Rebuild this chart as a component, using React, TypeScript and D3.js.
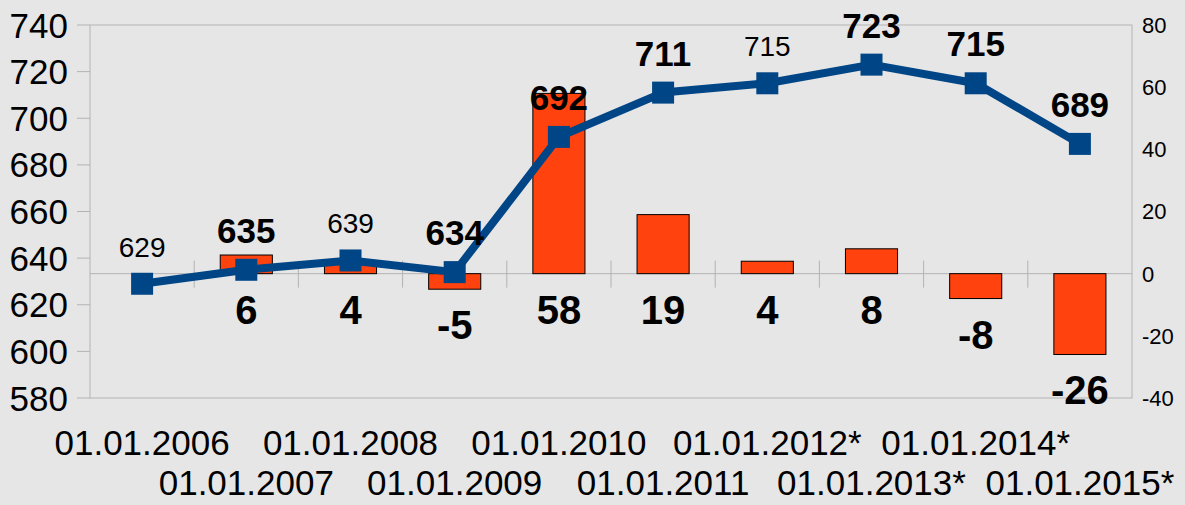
import * as d3 from "d3";

const categories = [
  "01.01.2006", "01.01.2007", "01.01.2008", "01.01.2009", "01.01.2010",
  "01.01.2011", "01.01.2012*", "01.01.2013*", "01.01.2014*", "01.01.2015*",
];
// population (left axis, line)
const totals = [629, 635, 639, 634, 692, 711, 715, 723, 715, 689];
// which line labels are drawn bold in the original
const totalBold = [false, true, false, true, true, true, false, true, true, true];
// yearly change (right axis, bars); first year has none
const changes: (number | null)[] = [null, 6, 4, -5, 58, 19, 4, 8, -8, -26];

const leftTicks = [580, 600, 620, 640, 660, 680, 700, 720, 740];
const rightTicks = [-40, -20, 0, 20, 40, 60, 80];

const W = 1185;
const H = 505;
const margin = { top: 25, right: 53, bottom: 107, left: 90 };
const FONT = "'Liberation Sans', Arial, sans-serif";
const BG = "#e6e6e6";
const GRID = "#b3b3b3";
const LINE = "#004586";
const BAR = "#ff420e";

export default function App() {
  const x0 = margin.left;
  const x1 = W - margin.right;
  const y0 = margin.top;
  const y1 = H - margin.bottom;

  const x = d3.scaleBand<string>().domain(categories).range([x0, x1]);
  const yL = d3.scaleLinear().domain([580, 740]).range([y1, y0]);
  const yR = d3.scaleLinear().domain([-40, 80]).range([y1, y0]);
  const cx = (c: string) => (x(c) ?? 0) + x.bandwidth() / 2;
  const barW = x.bandwidth() * 0.5;
  const zero = yR(0);

  const line = d3
    .line<number>()
    .x((_, i) => cx(categories[i]))
    .y((d) => yL(d));

  const mk = 22;

  return (
    <svg
      width={W}
      height={H}
      style={{ position: "absolute", left: 0, top: 0, display: "block" }}
      fontFamily={FONT}
    >
      <rect width={W} height={H} fill={BG} />

      {/* frame */}
      <rect x={x0} y={y0} width={x1 - x0} height={y1 - y0} fill="none" stroke={GRID} strokeWidth={1} />

      {/* left axis ticks + labels */}
      {leftTicks.map((t) => (
        <g key={"l" + t}>
          <line x1={x0 - 13} x2={x0} y1={yL(t)} y2={yL(t)} stroke={GRID} />
          <text x={68} y={yL(t)} dy="0.36em" textAnchor="end" fontSize={35} fill="#000">
            {t}
          </text>
        </g>
      ))}

      {/* right axis labels */}
      {rightTicks.map((t) => (
        <text key={"r" + t} x={1142} y={yR(t)} dy="0.36em" fontSize={22} fill="#000">
          {t}
        </text>
      ))}

      {/* zero line with category ticks */}
      <line x1={x0} x2={x1} y1={zero} y2={zero} stroke={GRID} />
      {categories.slice(1).map((c) => (
        <line key={"t" + c} x1={x(c)} x2={x(c)} y1={zero - 13} y2={zero + 14} stroke={GRID} />
      ))}

      {/* bars */}
      {categories.map((c, i) => {
        const v = changes[i];
        if (v === null) return null;
        const top = Math.min(yR(v), zero);
        const h = Math.abs(yR(v) - zero);
        return (
          <rect
            key={"b" + c}
            x={cx(c) - barW / 2}
            y={top}
            width={barW}
            height={h}
            fill={BAR}
            stroke="#000"
            strokeWidth={1}
          />
        );
      })}

      {/* bar labels */}
      {categories.map((c, i) => {
        const v = changes[i];
        if (v === null) return null;
        const base = Math.max(yR(v), zero) + 50;
        return (
          <text key={"bl" + c} x={cx(c)} y={base} textAnchor="middle" fontSize={40} fontWeight="bold" fill="#000">
            {v}
          </text>
        );
      })}

      {/* line */}
      <path d={line(totals) ?? ""} fill="none" stroke={LINE} strokeWidth={8} strokeLinejoin="round" />
      {totals.map((v, i) => (
        <rect
          key={"m" + i}
          x={cx(categories[i]) - mk / 2}
          y={yL(v) - mk / 2}
          width={mk}
          height={mk}
          fill={LINE}
        />
      ))}

      {/* line labels */}
      {totals.map((v, i) => (
        <text
          key={"ll" + i}
          x={cx(categories[i])}
          y={yL(v) - 27}
          textAnchor="middle"
          fontSize={totalBold[i] ? 35 : 28}
          fontWeight={totalBold[i] ? "bold" : "normal"}
          fill="#000"
        >
          {v}
        </text>
      ))}

      {/* category labels, staggered */}
      {categories.map((c, i) => (
        <text key={"c" + c} x={cx(c)} y={i % 2 === 0 ? 455 : 495} textAnchor="middle" fontSize={35} fill="#000">
          {c}
        </text>
      ))}
    </svg>
  );
}
